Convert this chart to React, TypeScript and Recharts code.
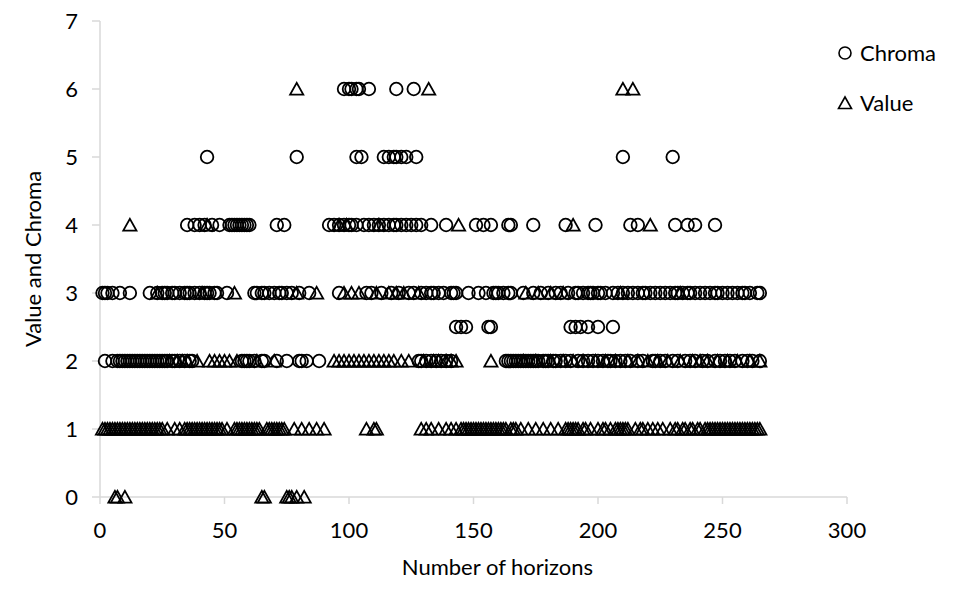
import React from "react";
import { ScatterChart, Scatter, XAxis, YAxis } from "recharts";

const valueAt0 = [6, 7, 10, 65, 66, 75, 76, 77, 79, 82];
const valueAt1 = [
  1, 2, 3, 4, 5, 6, 7, 8, 9, 10, 11, 12, 13, 14, 15, 16, 17, 18, 19, 20, 21,
  22, 23, 24, 25, 27, 30, 32, 34, 35, 36, 37, 38, 39, 40, 41, 42, 43, 44, 45,
  46, 47, 48, 49, 51, 54, 55, 56, 57, 58, 59, 60, 61, 62, 63, 64, 67, 68, 69,
  70, 71, 72, 73, 74, 78, 81, 84, 87, 90, 107, 110, 111, 129, 131, 133, 136,
  139, 141, 143, 145, 146, 147, 148, 149, 150, 151, 152, 153, 154, 155, 156,
  157, 158, 159, 160, 161, 162, 163, 165, 166, 167, 169, 172, 175, 178, 181,
  184, 187, 188, 189, 190, 191, 192, 194, 195, 197, 200, 202, 203, 205, 207,
  208, 209, 210, 211, 212, 215, 217, 218, 220, 222, 224, 226, 229, 231, 232,
  234, 235, 237, 238, 240, 241, 243, 244, 245, 246, 247, 248, 249, 250, 251,
  252, 253, 254, 255, 256, 257, 258, 259, 260, 261, 262, 263, 264, 265,
];
const valueAt2 = [
  28, 31, 33, 35, 39, 44, 46, 48, 50, 52, 55, 63, 70, 94, 96, 98, 100, 102,
  104, 106, 108, 110, 112, 114, 116, 118, 121, 124, 130, 134, 136, 139, 141,
  143, 157, 170, 175, 181, 186, 190, 194, 199, 203, 207, 212, 216, 220, 224,
  228, 233, 238, 241, 244, 248, 252, 256, 261, 265,
];
const valueAt3 = [
  23, 41, 54, 79, 87, 98, 101, 104, 111, 116, 119, 122, 128, 171, 176, 181,
  186, 209, 233,
];
const valueAt4 = [12, 43, 96, 99, 112, 144, 190, 221];
const valueAt6 = [79, 132, 210, 214];

const chromaAt2 = [
  2, 5, 7, 8, 9, 10, 11, 12, 13, 14, 15, 16, 17, 18, 19, 20, 21, 22, 23, 24,
  25, 26, 27, 29, 30, 32, 34, 36, 37, 57, 58, 59, 60, 62, 65, 66, 71, 75, 80,
  81, 83, 88, 128, 129, 131, 133, 135, 137, 139, 141, 163, 164, 165, 166,
  167, 168, 169, 170, 171, 172, 173, 174, 175, 176, 178, 179, 180, 182, 183,
  185, 187, 189, 192, 194, 196, 198, 200, 202, 204, 205, 207, 209, 211, 213,
  216, 218, 222, 223, 225, 227, 230, 232, 235, 237, 239, 242, 244, 247, 249,
  251, 253, 255, 258, 260, 262, 265,
];
const chromaAt2_5 = [143, 145, 147, 156, 157, 189, 191, 193, 196, 200, 206];
const chromaAt3 = [
  1, 2, 3, 5, 8, 12, 20, 23, 25, 26, 27, 29, 30, 32, 34, 35, 36, 38, 40, 42,
  43, 44, 46, 47, 51, 62, 63, 65, 66, 68, 70, 72, 73, 75, 77, 80, 84, 96,
  107, 109, 113, 117, 120, 124, 126, 129, 131, 133, 134, 136, 138, 141, 142,
  143, 148, 152, 155, 158, 159, 160, 162, 164, 165, 170, 174, 177, 180, 183,
  185, 188, 191, 192, 194, 196, 197, 198, 200, 201, 203, 206, 208, 210, 212,
  214, 216, 218, 219, 221, 223, 225, 227, 229, 231, 232, 234, 236, 237, 239,
  241, 243, 245, 247, 248, 250, 252, 254, 256, 258, 259, 261, 264, 265,
];
const chromaAt4 = [
  35, 38, 40, 42, 45, 48, 52, 53, 54, 55, 56, 57, 58, 59, 60, 71, 74, 92, 94,
  96, 98, 100, 101, 103, 106, 108, 110, 112, 114, 116, 118, 119, 121, 123,
  125, 127, 129, 133, 139, 151, 154, 157, 164, 165, 174, 187, 199, 213, 216,
  231, 236, 239, 247,
];
const chromaAt5 = [43, 79, 103, 105, 114, 116, 118, 119, 121, 123, 127, 210, 230];
const chromaAt6 = [98, 100, 101, 103, 104, 108, 119, 126];

const xTicks = [0, 50, 100, 150, 200, 250, 300];
const yTicks = [0, 1, 2, 3, 4, 5, 6, 7];

const toPoints = (xs: number[], y: number) => xs.map((x) => ({ x, y }));

const chromaData = [
  ...toPoints(chromaAt2, 2),
  ...toPoints(chromaAt2_5, 2.5),
  ...toPoints(chromaAt3, 3),
  ...toPoints(chromaAt4, 4),
  ...toPoints(chromaAt5, 5),
  ...toPoints(chromaAt6, 6),
];

const valueData = [
  ...toPoints(valueAt0, 0),
  ...toPoints(valueAt1, 1),
  ...toPoints(valueAt2, 2),
  ...toPoints(valueAt3, 3),
  ...toPoints(valueAt4, 4),
  ...toPoints(valueAt6, 6),
];

const FONT = "Lato, 'Open Sans', sans-serif";
const AXIS_GRAY = "#d9d9d9";
const STROKE_W = 1.8;

const CircleMark = (props: any) => {
  const { cx, cy } = props;
  if (cx == null || cy == null) return null;
  return <circle cx={cx} cy={cy} r={6.3} fill="none" stroke="#000" strokeWidth={STROKE_W} />;
};

const TriangleMark = (props: any) => {
  const { cx, cy } = props;
  if (cx == null || cy == null) return null;
  const pts = `${cx - 6.6},${cy + 5.6} ${cx + 6.6},${cy + 5.6} ${cx},${cy - 6.2}`;
  return <polygon points={pts} fill="none" stroke="#000" strokeWidth={STROKE_W} />;
};

const LegendBox = () => (
  <div
    style={{
      position: "absolute",
      left: 836,
      top: 28,
      fontFamily: FONT,
      fontSize: 22,
      color: "#000",
      lineHeight: "50px",
    }}
  >
    <div style={{ display: "flex", alignItems: "center" }}>
      <svg width={18} height={18} style={{ marginRight: 6 }}>
        <circle cx={9} cy={9} r={6} fill="none" stroke="#000" strokeWidth={1.6} />
      </svg>
      Chroma
    </div>
    <div style={{ display: "flex", alignItems: "center" }}>
      <svg width={18} height={18} style={{ marginRight: 6 }}>
        <polygon points="2.5,14.5 15.5,14.5 9,3" fill="none" stroke="#000" strokeWidth={1.6} />
      </svg>
      Value
    </div>
  </div>
);

export default function App() {
  return (
    <div style={{ position: "absolute", left: 0, top: 0, width: 964, height: 590, background: "#fff" }}>
      <ScatterChart
        width={964}
        height={590}
        margin={{ top: 21, right: 117, bottom: 13, left: 40 }}
      >
        <XAxis
          type="number"
          dataKey="x"
          domain={[0, 300]}
          ticks={xTicks}
          interval={0}
          stroke={AXIS_GRAY}
          strokeWidth={1.5}
          tickSize={7}
          tickMargin={18}
          height={80}
          tick={{ fill: "#000", fontSize: 22, fontFamily: FONT }}
          label={{
            value: "Number of horizons",
            position: "insideBottom",
            offset: 2,
            dx: 24,
            fill: "#000",
            fontSize: 22,
            fontFamily: FONT,
          }}
        />
        <YAxis
          type="number"
          dataKey="y"
          domain={[0, 7]}
          ticks={yTicks}
          interval={0}
          stroke={AXIS_GRAY}
          strokeWidth={1.5}
          tickSize={8}
          tickMargin={14}
          width={60}
          tick={{ fill: "#000", fontSize: 22, fontFamily: FONT }}
          label={{
            value: "Value and Chroma",
            angle: -90,
            position: "insideLeft",
            offset: -7,
            fill: "#000",
            fontSize: 22,
            fontFamily: FONT,
            style: { textAnchor: "middle" },
          }}
        />
        <Scatter
          name="Chroma"
          data={chromaData}
          shape={CircleMark}
          isAnimationActive={false}
        />
        <Scatter
          name="Value"
          data={valueData}
          shape={TriangleMark}
          isAnimationActive={false}
        />
      </ScatterChart>
      <LegendBox />
    </div>
  );
}
